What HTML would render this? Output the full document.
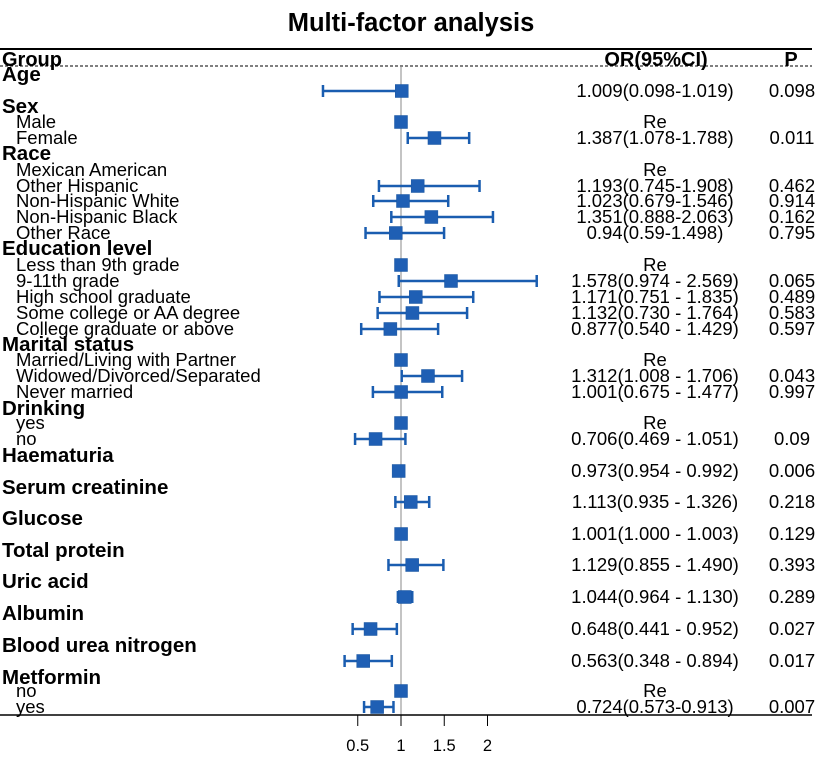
<!DOCTYPE html>
<html><head><meta charset="utf-8">
<style>
body{margin:0;background:#fff;}
svg text{font-family:"Liberation Sans",Arial,sans-serif;}
</style></head>
<body>
<svg id="chart" width="829" height="757" xmlns="http://www.w3.org/2000/svg">
<text x="411" y="31" text-anchor="middle" font-size="25.5" font-weight="bold">Multi-factor analysis</text>
<line x1="0" y1="49" x2="812" y2="49" stroke="#000" stroke-width="2"/>
<g id="hdr"></g>
<line x1="0" y1="66" x2="812" y2="66" stroke="#000" stroke-dasharray="3,2"/>
<g id="rows"></g>
<line x1="401" y1="66" x2="401" y2="715" stroke="#888" stroke-width="1"/>
<g id="marks"></g>
<line x1="0" y1="715" x2="812" y2="715" stroke="#000" stroke-width="1.5"/>
<g id="axis"></g>
</svg>
<script>
const labels = ["Age","","Sex","Male","Female","Race","Mexican American","Other Hispanic","Non-Hispanic White","Non-Hispanic Black","Other Race","Education level","Less than 9th grade","9-11th grade","High school graduate","Some college or AA degree","College graduate or above","Marital status","Married/Living with Partner","Widowed/Divorced/Separated","Never married","Drinking","yes","no","Haematuria","","Serum creatinine","","Glucose","","Total protein","","Uric acid","","Albumin","","Blood urea nitrogen","","Metformin","no","yes"];
const isHeader = [1,0,1,0,0,1,0,0,0,0,0,1,0,0,0,0,0,1,0,0,0,1,0,0,1,0,1,0,1,0,1,0,1,0,1,0,1,0,1,0,0];
const orText = ["","1.009(0.098-1.019)","","Re","1.387(1.078-1.788)","","Re","1.193(0.745-1.908)","1.023(0.679-1.546)","1.351(0.888-2.063)","0.94(0.59-1.498)","","Re","1.578(0.974 - 2.569)","1.171(0.751 - 1.835)","1.132(0.730 - 1.764)","0.877(0.540 - 1.429)","","Re","1.312(1.008 - 1.706)","1.001(0.675 - 1.477)","","Re","0.706(0.469 - 1.051)","","0.973(0.954 - 0.992)","","1.113(0.935 - 1.326)","","1.001(1.000 - 1.003)","","1.129(0.855 - 1.490)","","1.044(0.964 - 1.130)","","0.648(0.441 - 0.952)","","0.563(0.348 - 0.894)","","Re","0.724(0.573-0.913)"];
const pText = ["","0.098","","","0.011","","","0.462","0.914","0.162","0.795","","","0.065","0.489","0.583","0.597","","","0.043","0.997","","","0.09","","0.006","","0.218","","0.129","","0.393","","0.289","","0.027","","0.017","","","0.007"];
const rowY = [75,91,107,122,138,154,170,186,201,217,233,249,265,281,297,313,329,345,360,376,392,409,423,439,456,471,488,502,519,534,551,565,582,597,614,629,646,661,678,691,707];
const orVal = [null,1.009,null,1,1.387,null,null,1.193,1.023,1.351,0.94,null,1,1.578,1.171,1.132,0.877,null,1,1.312,1.001,null,1,0.706,null,0.973,null,1.113,null,1.001,null,1.129,null,1.044,null,0.648,null,0.563,null,1,0.724];
const loVal = [null,0.098,null,null,1.078,null,null,0.745,0.679,0.888,0.59,null,null,0.974,0.751,0.730,0.540,null,null,1.008,0.675,null,null,0.469,null,0.954,null,0.935,null,1.000,null,0.855,null,0.964,null,0.441,null,0.348,null,null,0.573];
const hiVal = [null,1.019,null,null,1.788,null,null,1.908,1.546,2.063,1.498,null,null,2.569,1.835,1.764,1.429,null,null,1.706,1.477,null,null,1.051,null,0.992,null,1.326,null,1.003,null,1.490,null,1.130,null,0.952,null,0.894,null,null,0.913];
const ticks = [0.5,1,1.5,2];
const tickLabels = ["0.5","1","1.5","2"];

const NS="http://www.w3.org/2000/svg";
const x = v => 401 + (v-1)*86.5;
function mk(tag, attrs, parent){const e=document.createElementNS(NS,tag);for(const k in attrs)e.setAttribute(k,attrs[k]);parent.appendChild(e);return e;}
function txt(parent, px, py, size, bold, anchor, s){
  const t=mk('text',{x:px,y:py,'font-size':size,'font-weight':bold?'bold':'normal','text-anchor':anchor},parent);
  t.textContent=s;return t;
}
const hdr=document.getElementById('hdr'), rows=document.getElementById('rows'), marks=document.getElementById('marks'), axis=document.getElementById('axis');
let h;
h=txt(hdr,2,66,20,true,'start','Group');


h=txt(hdr,656,66,20,true,'middle','OR(95%CI)');


h=txt(hdr,791,66,20,true,'middle','P');


labels.forEach((l,i)=>{
  const y=rowY[i];
  if(l){
    const t=txt(rows,isHeader[i]?2:16,y+6,isHeader[i]?20.5:18.5,isHeader[i],'start',l);
    
    
  }
  if(orText[i]){
    const t=txt(rows,655,y+6,18.5,false,'middle',orText[i]);
    
    
  }
  if(pText[i]){
    const t=txt(rows,792,y+6,18.5,false,'middle',pText[i]);
    
    
  }
  if(orVal[i]!==null){
    if(loVal[i]!==null){
      const g=mk('g',{stroke:'#1a5db0','stroke-width':2.5},marks);
      
      
      mk('line',{x1:x(loVal[i]),x2:x(hiVal[i]),y1:y,y2:y},g);
      mk('line',{x1:x(loVal[i]),x2:x(loVal[i]),y1:y-6,y2:y+6},g);
      mk('line',{x1:x(hiVal[i]),x2:x(hiVal[i]),y1:y-6,y2:y+6},g);
    }
    const s=mk('rect',{x:x(orVal[i])-6.5,y:y-6.5,width:13,height:13,fill:'#1f5fb4',stroke:'#1a56a0','stroke-width':0.5},marks);
    
    
  }
});
ticks.forEach((v,i)=>{
  const l=mk('line',{x1:x(v),x2:x(v),y1:715,y2:726,stroke:'#000','stroke-width':1},axis);
  
  
  const t=mk('text',{x:x(v),y:751,'font-size':16.5,'text-anchor':'middle'},axis);
  
  
  t.textContent=tickLabels[i];
});
</script>
</body></html>
